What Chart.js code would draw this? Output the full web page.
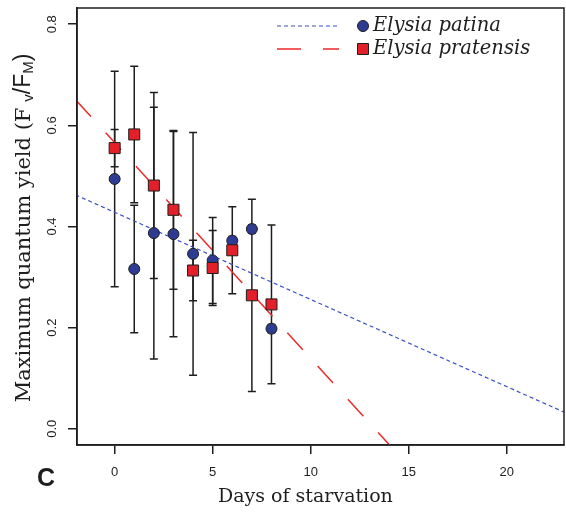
<!DOCTYPE html>
<html>
<head>
<meta charset="utf-8">
<script src="https://cdn.jsdelivr.net/npm/chart.js@4.4.1/dist/chart.umd.min.js"></script>
<style>
  html, body { margin: 0; padding: 0; background: #fff; }
</style>
</head>
<body>
<canvas id="chart" width="566" height="512"></canvas>
<script>
// values
const days = [0, 1, 2, 3, 4, 5, 6, 7, 8];
const patinaMean = [0.494, 0.316, 0.387, 0.385, 0.346, 0.333, 0.372, 0.395, 0.198];
const patinaErr = [0.213, 0.126, 0.249, 0.203, 0.240, 0.085, 0.008, 0.008, 0.008];
const pratensisMean = [0.555, 0.582, 0.481, 0.433, 0.313, 0.318, 0.353, 0.264, 0.246];
const pratensisErr = [0.037, 0.135, 0.184, 0.157, 0.060, 0.074, 0.086, 0.190, 0.157];

// regression line end points (read at the plot edges)
const fitX = [-2, 23];
const patinaFit = [0.4625, 0.0317];
const pratensisFit = [0.651, -0.415];

const xTicks = [0, 5, 10, 15, 20];
const xTickLabels = ['0', '5', '10', '15', '20'];
const yTicks = [0, 0.2, 0.4, 0.6, 0.8];
const yTickLabels = ['0.0', '0.2', '0.4', '0.6', '0.8'];

const ink = '#1e1e1e';
const blueFill = '#2d3c92';
const redFill = '#e3202a';
const blueLine = '#3b4fc4';
const redLine = '#ee2a2a';

const toPoints = (xs, ys) => xs.map((x, i) => ({ x: x, y: ys[i] }));

const errorBars = {
  id: 'errorBars',
  beforeDatasetsDraw(chart) {
    const { ctx, scales: { x, y } } = chart;
    ctx.save();
    ctx.strokeStyle = ink;
    ctx.lineWidth = 1.5;
    [[patinaMean, patinaErr], [pratensisMean, pratensisErr]].forEach(([m, e]) => {
      days.forEach((d, i) => {
        const px = x.getPixelForValue(d);
        const top = y.getPixelForValue(m[i] + e[i]);
        const bot = y.getPixelForValue(m[i] - e[i]);
        ctx.beginPath();
        ctx.moveTo(px, top); ctx.lineTo(px, bot);
        ctx.moveTo(px - 4, top); ctx.lineTo(px + 4, top);
        ctx.moveTo(px - 4, bot); ctx.lineTo(px + 4, bot);
        ctx.stroke();
      });
    });
    ctx.restore();
  }
};

const decorations = {
  id: 'decorations',
  afterDraw(chart) {
    const { ctx, chartArea: a, scales: { x, y } } = chart;
    ctx.save();

    // box round the plot
    ctx.strokeStyle = ink;
    ctx.lineWidth = 1.5;
    ctx.strokeRect(a.left, a.top, a.right - a.left, a.bottom - a.top);

    // tick labels
    ctx.fillStyle = ink;
    ctx.font = '13px "Liberation Sans"';
    ctx.textAlign = 'center';
    ctx.textBaseline = 'middle';
    xTicks.forEach((v, i) => {
      ctx.fillText(xTickLabels[i], x.getPixelForValue(v), 472);
    });
    yTicks.forEach((v, i) => {
      ctx.save();
      ctx.translate(52, y.getPixelForValue(v));
      ctx.rotate(-Math.PI / 2);
      ctx.fillText(yTickLabels[i], 0, 0);
      ctx.restore();
    });

    // y title with subscripts
    const parts = [
      { t: 'Maximum quantum yield (F', f: '21px "DejaVu Serif"', dy: 0 },
      { t: ' ', f: '21px "Liberation Sans"', dy: 0 },
      { t: 'v', f: '15px "Liberation Sans"', dy: 3 },
      { t: '/F', f: '23px "Liberation Sans"', dy: 0 },
      { t: 'M', f: '15px "Liberation Sans"', dy: 3 },
      { t: ')', f: '23px "Liberation Sans"', dy: 0 }
    ];
    let total = 0;
    parts.forEach(p => { ctx.font = p.f; p.w = ctx.measureText(p.t).width; total += p.w; });
    ctx.save();
    ctx.translate(30, 228);
    ctx.rotate(-Math.PI / 2);
    ctx.textAlign = 'left';
    ctx.textBaseline = 'alphabetic';
    let cx = -total / 2;
    parts.forEach(p => {
      ctx.font = p.f;
      ctx.fillText(p.t, cx, p.dy);
      cx += p.w;
    });
    ctx.restore();

    // x title
    ctx.font = '19px "DejaVu Serif"';
    ctx.textAlign = 'left';
    ctx.textBaseline = 'alphabetic';
    ctx.fillText('Days of starvation', 218, 502);

    // panel letter
    ctx.font = 'bold 25px "Liberation Sans"';
    ctx.fillText('C', 37, 486);

    // legend
    const rows = [
      { label: 'Elysia patina', line: blueLine, dash: [4, 3], lw: 1.2, fill: blueFill, shape: 'circle', cy: 26, base: 31 },
      { label: 'Elysia pratensis', line: redLine, dash: [24, 22], lw: 1.5, fill: redFill, shape: 'rect', cy: 49, base: 54 }
    ];
    rows.forEach(r => {
      ctx.beginPath();
      ctx.strokeStyle = r.line;
      ctx.lineWidth = r.lw;
      ctx.setLineDash(r.dash);
      ctx.moveTo(277, r.cy);
      ctx.lineTo(r.shape === 'rect' ? 339 : 340, r.cy);
      ctx.stroke();
      ctx.setLineDash([]);
      ctx.fillStyle = r.fill;
      ctx.strokeStyle = ink;
      ctx.lineWidth = 1;
      ctx.beginPath();
      if (r.shape === 'circle') ctx.arc(363, r.cy, 5.5, 0, Math.PI * 2);
      else ctx.rect(357.5, r.cy - 5.5, 11, 11);
      ctx.fill();
      ctx.stroke();
      ctx.fillStyle = ink;
      ctx.font = 'italic 19.5px "DejaVu Serif"';
      ctx.fillText(r.label, 373, r.base);
    });

    ctx.restore();
  }
};

new Chart(document.getElementById('chart'), {
  type: 'scatter',
  data: {
    datasets: [
      {
        label: 'Elysia pratensis',
        data: toPoints(days, pratensisMean),
        pointStyle: 'rect',
        pointRadius: 7.8,
        backgroundColor: redFill,
        borderColor: ink,
        borderWidth: 1,
        order: 0
      },
      {
        label: 'Elysia patina',
        data: toPoints(days, patinaMean),
        pointStyle: 'circle',
        pointRadius: 5.5,
        backgroundColor: blueFill,
        borderColor: ink,
        borderWidth: 1,
        order: 1
      },
      {
        label: 'pratensis fit',
        data: toPoints(fitX, pratensisFit),
        showLine: true,
        pointRadius: 0,
        borderColor: redLine,
        borderWidth: 1.5,
        borderDash: [23, 22],
        order: 2
      },
      {
        label: 'patina fit',
        data: toPoints(fitX, patinaFit),
        showLine: true,
        pointRadius: 0,
        borderColor: blueLine,
        borderWidth: 1.2,
        borderDash: [4, 3],
        order: 3
      }
    ]
  },
  options: {
    responsive: false,
    animation: false,
    events: [],
    layout: { autoPadding: false, padding: { top: 8, right: 2, left: 0, bottom: 0 } },
    plugins: { legend: { display: false }, tooltip: { enabled: false } },
    scales: {
      x: {
        type: 'linear',
        min: -1.92,
        max: 22.92,
        afterBuildTicks: s => { s.ticks = xTicks.map(v => ({ value: v })); },
        afterFit: s => { s.height = 67; },
        grid: { drawOnChartArea: false, drawTicks: true, tickLength: 9, color: ink, lineWidth: 1.5 },
        border: { display: true, color: ink, width: 1.5 },
        ticks: { display: false }
      },
      y: {
        type: 'linear',
        min: -0.032,
        max: 0.832,
        afterBuildTicks: s => { s.ticks = yTicks.map(v => ({ value: v })); },
        afterFit: s => { s.width = 77; },
        grid: { drawOnChartArea: false, drawTicks: true, tickLength: 9, color: ink, lineWidth: 1.5 },
        border: { display: true, color: ink, width: 1.5 },
        ticks: { display: false }
      }
    }
  },
  plugins: [errorBars, decorations]
});
</script>
</body>
</html>
